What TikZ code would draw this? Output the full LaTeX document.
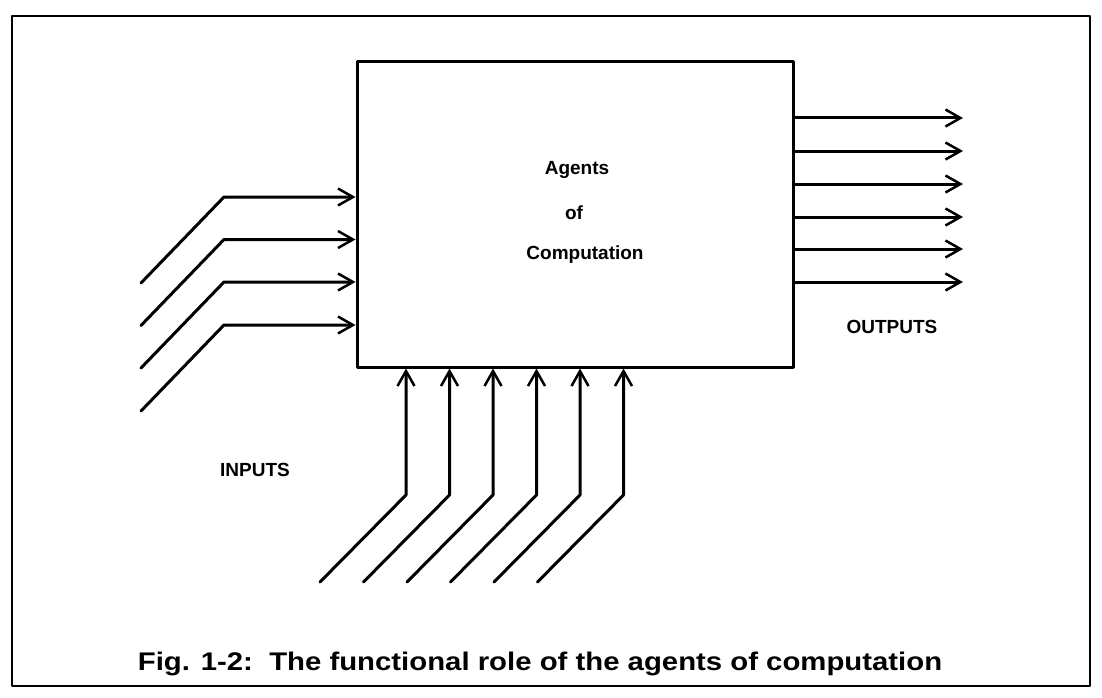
\documentclass[tikz,border=0pt]{standalone}
\usepackage{fontspec}
\setmainfont{Liberation Sans}
\newfontfamily\capfont[FakeStretch=1.15]{Liberation Sans}
\usetikzlibrary{arrows.meta}

\begin{document}
\begin{tikzpicture}[x=1pt, y=-1pt, line join=round, line cap=round,
    flow/.style={line width=3pt, -{Straight Barb[length=15pt, width=17pt, line width=2.5pt]}},
    lbl/.style={font=\fontsize{19}{22}\selectfont\bfseries}]
      \useasboundingbox (0,0) rectangle (1102,698);
      \draw[line width=2.5pt] (12,16) rectangle (1090,686);
      % the agents box
      \node[draw, line width=3pt, minimum width=436pt, minimum height=305pt, inner sep=0pt] (agents) at (575,214.5) {};
      \node[lbl] (ag) at (577,170) {Agents};
      \node[lbl] (of) at (574,213) {of};
      \node[lbl] (comp) at (585,255) {Computation};
      % inputs from the left
      \foreach \y [count=\i] in {197,239.5,282,325} {
        \coordinate (in\i) at (141,\y+86);
        \draw[flow] (in\i) -- ++(83,-86) -- (agents.west |- 0,\y);
      }
      % inputs from below
      \foreach \x [count=\i] in {406,449.5,493,536.5,580,623.5} {
        \coordinate (up\i) at (\x-86,582);
        \draw[flow] (up\i) -- ++(86,-87) -- (agents.south -| \x,0);
      }
      % outputs
      \foreach \y [count=\i] in {118,151,184,217,249,282} {
        \coordinate (out\i) at (963,\y);
        \draw[flow] (agents.east |- 0,\y) -- (out\i);
      }
      \node[lbl] (inputs) at (255,470) {INPUTS};
      \node[lbl] (outputs) at (892,327) {OUTPUTS};
      \node[font=\capfont\fontsize{25.5}{30}\selectfont\bfseries] (caption) at (540,664)
        {Fig. 1-2:\ \ The functional role of the agents of computation};
    \end{tikzpicture}
\end{document}
